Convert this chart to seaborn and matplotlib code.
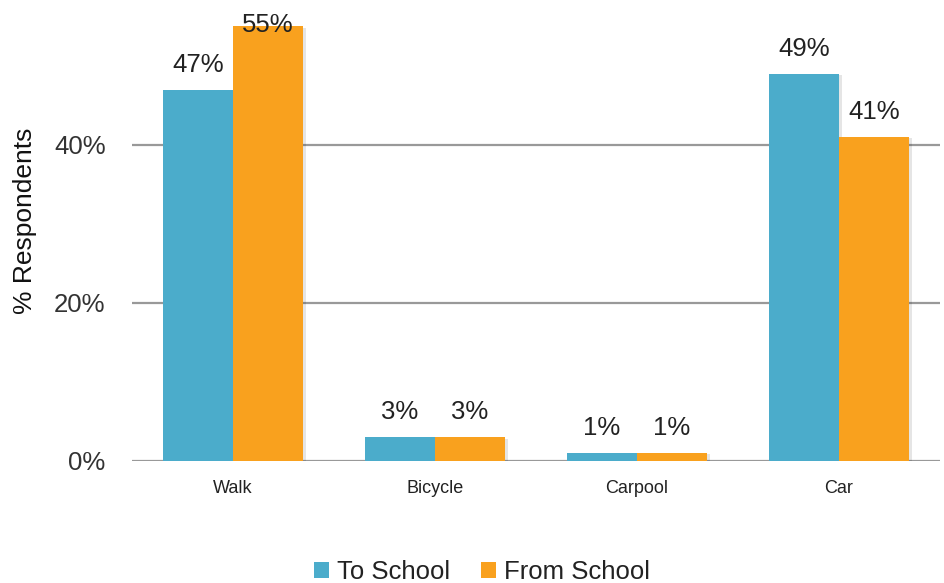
import matplotlib
matplotlib.use("Agg")
import matplotlib.pyplot as plt
import matplotlib.patheffects as pe
from matplotlib.patches import Patch
import seaborn as sns
import pandas as pd

modes = ["Walk", "Bicycle", "Carpool", "Car"]
to_school = [47, 3, 1, 49]
from_school = [55, 3, 1, 41]
series = ["To School", "From School"]
colors = ["#4BACCB", "#F9A11E"]
yticks = [0, 20, 40]

df = pd.DataFrame({
    "mode": modes * 2,
    "pct": to_school + from_school,
    "direction": [series[0]] * len(modes) + [series[1]] * len(modes),
})

sns.set_theme(style="white")
plt.rcParams["font.family"] = ["Liberation Sans", "DejaVu Sans"]

fig = plt.figure(figsize=(9.44, 5.83), dpi=100)
ax = fig.add_axes([132 / 944, 1 - 461 / 583, 808 / 944, 461 / 583])

sns.barplot(data=df, x="mode", y="pct", hue="direction", order=modes,
            hue_order=series, palette=colors, width=0.693, gap=0,
            saturation=1, legend=False, ax=ax, zorder=3)

ymax = 58.35
ax.set_ylim(0, ymax)
ax.set_xlim(-0.5, len(modes) - 0.5)

# subtle drop shadow on the bars, and value labels above them
for bar in ax.patches:
    bar.set_linewidth(0)
    bar.set_path_effects([pe.SimplePatchShadow(offset=(2, -1), shadow_rgbFace="#000000", alpha=0.10),
                          pe.Normal()])
    v = bar.get_height()
    ax.text(bar.get_x() + bar.get_width() / 2, min(v + 2.3, 54.3), f"{v:.0f}%",
            ha="center", va="baseline", fontsize=18.5, color="#222222", zorder=5)

ax.set_yticks(yticks)
ax.set_yticklabels([f"{t}%" for t in yticks])
ax.yaxis.grid(True, color="#999999", linewidth=1.6, zorder=0)
ax.xaxis.grid(False)
for s in ax.spines.values():
    s.set_visible(False)
ax.tick_params(axis="y", length=0, pad=19, labelsize=18.5, labelcolor="#333333")
ax.tick_params(axis="x", length=0, pad=14, labelsize=13, labelcolor="#222222")
ax.set_xlabel("")
ax.set_ylabel("% Respondents", fontsize=19, color="#111111")
ax.yaxis.set_label_coords(-0.118, 0.52)

handles = [Patch(facecolor=c, edgecolor="none", label=l) for c, l in zip(colors, series)]
fig.legend(handles=handles, loc="center", bbox_to_anchor=(0.511, 1 - 572 / 583),
           ncol=2, frameon=False, fontsize=18.5, handlelength=0.58, handleheight=0.58,
           handletextpad=0.32, columnspacing=1.2, labelcolor="#222222")

fig.savefig("out.png", dpi=100)
